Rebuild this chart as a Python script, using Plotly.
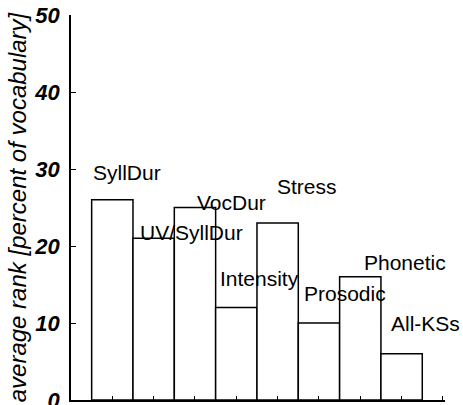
import plotly.graph_objects as go

categories = ["SyllDur", "UV/SyllDur", "VocDur", "Intensity", "Stress", "Prosodic", "Phonetic", "All-KSs"]
values = [26, 21, 25, 12, 23, 10, 16, 6]
label_x = [0.35, 1.92, 2.89, 3.56, 4.72, 5.62, 7.07, 7.57]
label_y = [29.6, 21.8, 25.7, 15.8, 27.7, 13.8, 17.8, 9.9]
y_ticks = [0, 10, 20, 30, 40, 50]
x_ticks = [0, 1, 2, 3, 4, 5, 6, 7, 8]

fig = go.Figure()
fig.add_trace(go.Bar(
    x=list(range(len(categories))), y=values, width=1,
    marker=dict(color="white", line=dict(color="black", width=1.5)),
    hoverinfo="skip", showlegend=False,
))
for name, lx, ly in zip(categories, label_x, label_y):
    fig.add_annotation(x=lx, y=ly, text=name, showarrow=False,
                       font=dict(family="Liberation Sans, Arial, sans-serif", size=21, color="black"),
                       xanchor="center", yanchor="middle")

fig.update_layout(
    width=463, height=405,
    margin=dict(l=71, r=18, t=15, b=5, autoexpand=False),
    plot_bgcolor="white", paper_bgcolor="white",
    xaxis=dict(range=[-1, 8.05], tickvals=x_ticks, ticks="inside", ticklen=4,
               tickcolor="black", showticklabels=False, showline=True, automargin=False,
               linecolor="black", linewidth=1.5, showgrid=False, zeroline=False),
    yaxis=dict(range=[0, 50], tickvals=y_ticks, ticks="inside", ticklen=5,
               tickcolor="black", showline=True, linecolor="black", linewidth=1.5,
               showgrid=False, zeroline=False, ticklabeloverflow="allow", automargin=False,
               ticklabelstandoff=5,
               tickfont=dict(family="Liberation Sans, Arial, sans-serif", size=22,
                             color="black", weight="bold", style="italic"),
               title=dict(text="average rank [percent of vocabulary]", standoff=1,
                          font=dict(family="Liberation Sans, Arial, sans-serif", size=24,
                                    color="black", style="italic"))),
)
fig.write_html("out.html")
